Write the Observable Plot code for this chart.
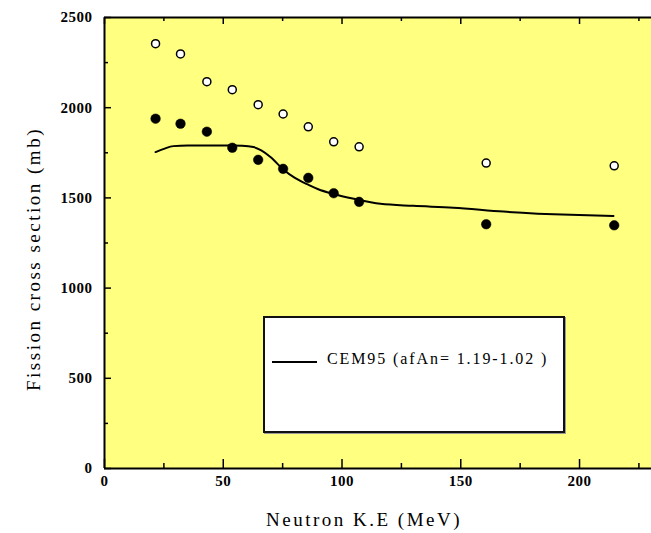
<!DOCTYPE html>
<html><head><meta charset="utf-8">
<script src="https://cdn.jsdelivr.net/npm/d3@7"></script>
<script src="https://cdn.jsdelivr.net/npm/@observablehq/plot@0.6"></script>
<style>
body{margin:0;background:#fff;}
#wrap{position:relative;width:651px;height:533px;overflow:hidden;}
#legend{position:absolute;left:263px;top:316px;width:302px;height:117px;background:#fff;border:2px solid #111;box-sizing:border-box;box-shadow:1px 1px 0 #999;}
#legend .ln{position:absolute;left:7px;top:43px;width:45px;height:0;border-top:2px solid #000;}
#legend .tx{position:absolute;left:62px;top:32px;font:16px "Liberation Serif",serif;letter-spacing:1.9px;color:#000;white-space:nowrap;}
</style>
</head><body>
<div id="wrap"></div>
<script>
// Data (x in axis units of Neutron K.E, y in mb)
const expX = [21.5, 32, 43.1, 53.8, 64.7, 75.2, 85.8, 96.5, 107.2, 160.7, 214.6];
const openY = [2355, 2298, 2144, 2100, 2017, 1965, 1894, 1811, 1783, 1693, 1678];
const filledY = [1939, 1911, 1867, 1778, 1711, 1661, 1611, 1526, 1478, 1354, 1348];
const curveX = [21.5, 25, 29, 35, 40, 45, 53, 58, 62.7, 66, 70, 75.4, 80, 85.9, 90, 96.4, 105, 116.2, 130, 146.9, 168, 196.2, 214.3];
const curveY = [1754, 1772, 1787, 1790, 1790, 1790, 1790, 1789, 1782, 1763, 1725, 1656, 1612, 1572, 1548, 1522, 1495, 1467, 1456, 1446, 1424, 1406, 1400];
const xMajor = [0, 50, 100, 150, 200];
const xMinor = [25, 75, 125, 175, 225];
const yMajor = [0, 500, 1000, 1500, 2000, 2500];
const yMinor = [250, 750, 1250, 1750, 2250];
const legendLabel = "CEM95 (afAn= 1.19-1.02 )";
const xTitle = "Neutron K.E (MeV)";
const yTitle = "Fission cross section (mb)";

const openPts = expX.map((x, i) => ({x, y: openY[i]}));
const filledPts = expX.map((x, i) => ({x, y: filledY[i]}));
const curve = curveX.map((x, i) => ({x, y: curveY[i]}));

const serif = "Liberation Serif, DejaVu Serif, serif";
const tickFont = {fontSize: 15, fontWeight: "bold", fontFamily: serif};

const chart = Plot.plot({
  width: 651, height: 533,
  marginLeft: 104, marginRight: 0, marginTop: 17, marginBottom: 65,
  x: {domain: [0, 230.3]},
  y: {domain: [0, 2500]},
  style: {background: "white", fontFamily: serif, color: "black"},
  marks: [
    Plot.frame({fill: "#ffff80", stroke: null}),
    // inward ticks
    Plot.axisY({ticks: yMajor, anchor: "left", tickSize: 7, dx: 7, fill: "none", label: null, strokeWidth: 1.5}),
    Plot.axisY({ticks: yMinor, anchor: "left", tickSize: 4, dx: 4, fill: "none", label: null, strokeWidth: 1.5}),
    Plot.axisX({ticks: xMajor, anchor: "bottom", tickSize: 9, dy: -9, fill: "none", label: null, strokeWidth: 1.5}),
    Plot.axisX({ticks: xMinor, anchor: "bottom", tickSize: 5, dy: -5, fill: "none", label: null, strokeWidth: 1.5}),
    Plot.axisX({ticks: xMajor, anchor: "top", tickSize: 6, dy: 6, fill: "none", label: null, strokeWidth: 1.5}),
    Plot.axisX({ticks: xMinor, anchor: "top", tickSize: 3, dy: 3, fill: "none", label: null, strokeWidth: 1.5}),
    // tick labels
    Plot.axisY({ticks: yMajor, anchor: "left", tickSize: 0, tickPadding: 12, tickFormat: d => String(d), label: null, ...tickFont}),
    Plot.axisX({ticks: xMajor, anchor: "bottom", tickSize: 0, tickPadding: 7, tickFormat: d => String(d), label: null, ...tickFont}),
    // frame lines
    Plot.ruleX([0], {stroke: "black", strokeWidth: 2}),
    Plot.ruleY([0, 2500], {stroke: "black", strokeWidth: 2}),
    // data
    Plot.line(curve, {x: "x", y: "y", stroke: "black", strokeWidth: 2, curve: "monotone-x"}),
    Plot.dot(openPts, {x: "x", y: "y", r: 4, fill: "white", stroke: "black", strokeWidth: 1.5}),
    Plot.dot(filledPts, {x: "x", y: "y", r: 4.8, fill: "black", stroke: "black", strokeWidth: 0.5}),
    // axis titles
    Plot.text([xTitle], {text: d => d, frameAnchor: "bottom", dy: 51, dx: -14, fontSize: 19, fontFamily: serif, lineAnchor: "middle", textAnchor: "middle"}),
    Plot.text([yTitle], {text: d => d, frameAnchor: "left", dx: -71, dy: 16, rotate: -90, fontSize: 19, fontFamily: serif, lineAnchor: "middle", textAnchor: "middle"})
  ]
});

const svg = d3.select(chart);
svg.selectAll("text").each(function() {
  const t = this.textContent;
  if (t === xTitle) this.style.letterSpacing = "2.5px";
  else if (t === yTitle) this.style.letterSpacing = "2.5px";
  else if (/^\d+$/.test(t)) this.style.letterSpacing = "0.5px";
});

const wrap = document.getElementById("wrap");
wrap.appendChild(chart);
const lg = document.createElement("div");
lg.id = "legend";
lg.innerHTML = '<div class="ln"></div><div class="tx"></div>';
lg.querySelector(".tx").textContent = legendLabel;
wrap.appendChild(lg);
</script>
</body></html>
